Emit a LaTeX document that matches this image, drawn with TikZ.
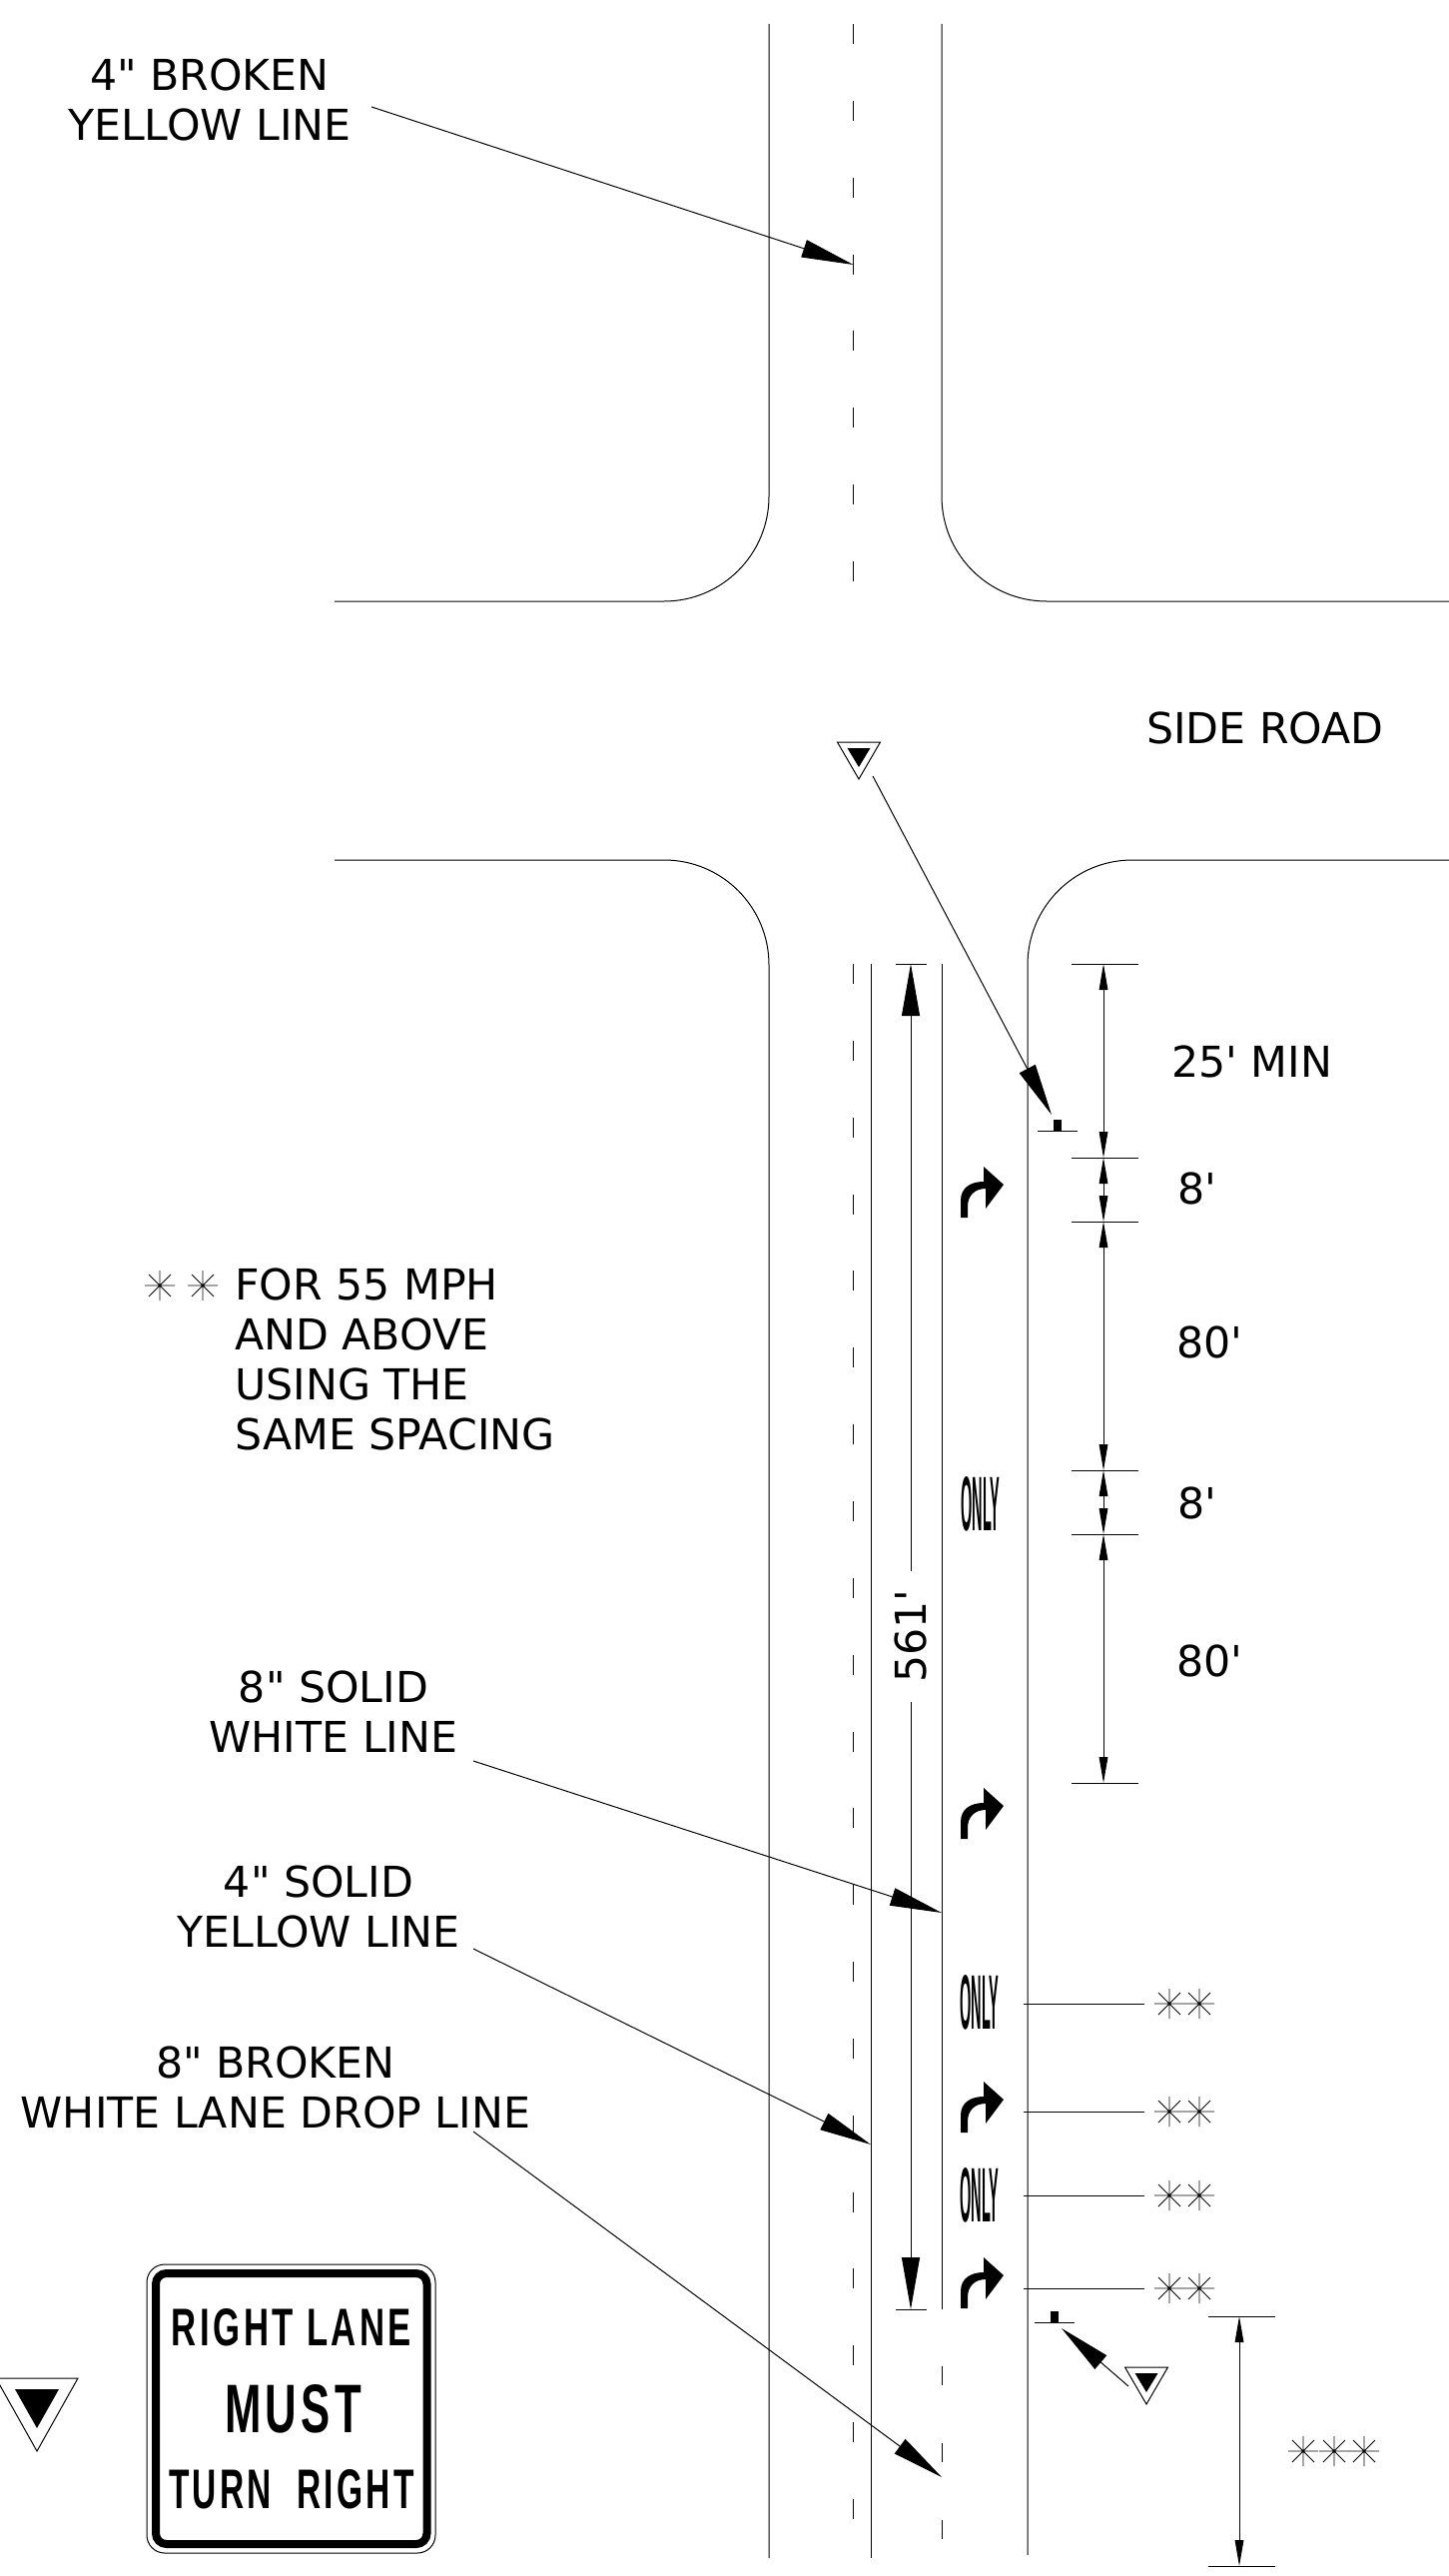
\documentclass[tikz,border=0pt]{standalone}
\usepackage{graphicx}
\usepackage{fontspec}
\setmainfont{DejaVu Sans}[Ligatures=TeXOff]
\newfontfamily\signfont{Liberation Sans}[LetterSpace=10]
\newfontfamily\pavefont{Liberation Sans}
\usetikzlibrary{arrows.meta}
\tikzset{
	roadline/.style={line width=0.75pt},
	leader/.style={line width=0.75pt,-{Triangle[length=39pt,width=13.5pt]}},
	dimline/.style={line width=0.75pt,{Triangle[length=19.5pt,width=6.5pt]}-{Triangle[length=19.5pt,width=6.5pt]}},
	labeltext/.style={font=\fontsize{32}{37.5}\selectfont,inner sep=0pt,align=center},
	turnarrow/.pic={\fill (0,0) -- (7,0) -- (7,11) .. controls (7,22) and (14,29) .. (25,29) -- (25,9) -- (43,33) -- (23,51) -- (23,36) .. controls (10,36) and (0,30) .. (0,17) -- cycle;},
	yieldmark/.pic={\draw[line width=0.75pt] (-21.5,0) -- (21.5,0) -- (0,-37) -- cycle; \fill (-11.5,-6) -- (11.5,-6) -- (0,-25) -- cycle;},
	bigyield/.pic={\draw[line width=0.75pt] (-41,0) -- (41,0) -- (0,-73) -- cycle; \fill (-22,-11) -- (22,-11) -- (0,-50) -- cycle;},
	starmark/.pic={\draw[line width=0.7pt] (-15,0) -- (15,0) (0,-15) -- (0,15) (-11,-11) -- (11,11) (-11,11) -- (11,-11);},
	barmark/.pic={\draw[line width=0.75pt] (-20,0) -- (20,0); \fill (-4,11) rectangle (4,0);},
}
\newcommand{\onlytext}{\resizebox{29.25pt}{40.5pt}{\pavefont\bfseries ONLY}}
\begin{document}
\begin{tikzpicture}[x=0.75pt,y=0.75pt,yscale=-1,xscale=1]
	\useasboundingbox (0,0) rectangle (1451,2579);
	
	% road edges
	\draw[roadline] (770,24) -- (770,497) arc (0:90:105) -- (335,602);
	\draw[roadline] (943,24) -- (943,497) arc (180:90:105) -- (1451,602);
	\draw[roadline] (335,861) -- (665,861) arc (-90:0:105) -- (770,2561);
	\draw[roadline] (1451,861) -- (1134,861) arc (-90:-180:105) -- (1029,2558);
	
	% center dashes
	\foreach \k in {0,...,7}
		\draw[roadline] (854.5,24+76.85*\k) -- (854.5,44+76.85*\k);
	\foreach \k in {0,...,20}
		\draw[roadline] (854.5,965+76.85*\k) -- (854.5,985+76.85*\k);
	
	% lane lines
	\coordinate (yellowtop) at (872,965);
	\coordinate (yellowend) at (872,2561);
	\coordinate (whitetop) at (943,965);
	\coordinate (whiteend) at (943,2312);
	\draw[roadline] (yellowtop) -- (yellowend);
	\draw[roadline] (whitetop) -- (whiteend);
	\foreach \y in {2369,2446,2523}
		\draw[roadline] (943,\y) -- (943,\y+19);
	
	% 561 dimension
	\node[labeltext,rotate=90,inner sep=14pt] (dimlong) at (912,1638) {561'};
	\coordinate (longtop) at (912,965);
	\coordinate (longend) at (912,2312);
	\draw[leader] (dimlong) -- (longtop);
	\draw[leader] (dimlong) -- (longend);
	\draw[roadline] (897,965) -- (928,965);
	\draw[roadline] (897,2312) -- (928,2312);
	
	% right side dimensions
	\foreach \name/\y in {da/965,db/1159,dc/1223,dd/1472,de/1536,df/1785} {
		\coordinate (\name) at (1105,\y);
		\draw[roadline] (1073,\y) -- (1140,\y);
	}
	\draw[dimline] (da) -- (db);
	\draw[dimline] (db) -- (dc);
	\draw[dimline] (dc) -- (dd);
	\draw[dimline] (dd) -- (de);
	\draw[dimline] (de) -- (df);
	\node[labeltext] (minlabel) at (1253.5,1063) {25' MIN};
	\node[labeltext,anchor=west] (eightone) at (1179,1190) {8'};
	\node[labeltext,anchor=west] (eightyone) at (1178,1344) {80'};
	\node[labeltext,anchor=west] (eighttwo) at (1179,1505) {8'};
	\node[labeltext,anchor=west] (eightytwo) at (1178,1663) {80'};
	
	% bottom dimension
	\coordinate (gaptop) at (1241,2319);
	\coordinate (gapend) at (1241,2569);
	\draw[dimline] (gaptop) -- (gapend);
	\draw[roadline] (1210,2319) -- (1277,2319);
	\draw[roadline] (1210,2569) -- (1277,2569);
	\foreach \x in {1305,1336,1366}
		\pic at (\x,2454) {starmark};
	
	% pavement arrows and words
	\foreach \y in {1219,1841,2135,2311}
		\pic at (962,\y) {turnarrow};
	\node[inner sep=0pt] (onlyone) at (982,1506) {\onlytext};
	\node[inner sep=0pt] (onlytwo) at (981,2005) {\onlytext};
	\node[inner sep=0pt] (onlythree) at (981,2198) {\onlytext};
	
	% leaders to the double stars
	\foreach \y in {2006,2114,2198,2291} {
		\draw[roadline] (1025,\y) -- (1146,\y);
		\pic at (1171,\y) {starmark};
		\pic at (1201,\y) {starmark};
	}
	
	% yield markers
	\pic at (860,743) {yieldmark};
	\pic at (1148,2370) {yieldmark};
	\pic at (37,2381) {bigyield};
	\pic at (1059,1132) {barmark};
	\pic at (1056,2325) {barmark};
	\coordinate (yieldone) at (874,777);
	\coordinate (barone) at (1053,1116);
	\coordinate (yieldtwo) at (1130,2389);
	\coordinate (bartwo) at (1063,2331);
	\draw[leader] (yieldone) -- (barone);
	\draw[leader] (yieldtwo) -- (bartwo);
	
	% labels
	\node[labeltext] (brokenyellow) at (210,100) {4" BROKEN\\YELLOW LINE};
	\node[labeltext] (sideroad) at (1267,729) {SIDE ROAD};
	\node[labeltext,align=left,anchor=north west] (spacingnote) at (235,1270) {FOR 55 MPH\\AND ABOVE\\USING THE\\SAME SPACING};
	\pic at (160,1287) {starmark};
	\pic at (203,1287) {starmark};
	\node[labeltext] (solidwhite) at (334,1714) {8" SOLID\\WHITE LINE};
	\node[labeltext] (solidyellow) at (319,1909) {4" SOLID\\YELLOW LINE};
	\node[labeltext] (brokenwhite) at (276,2090) {8" BROKEN\\WHITE LANE DROP LINE};
	
	% leaders from labels
	\coordinate (brokenstart) at (372,107);
	\coordinate (brokentip) at (854.5,265);
	\coordinate (whitestart) at (474,1763);
	\coordinate (whitetip) at (943,1915);
	\coordinate (yellowstart) at (474,1951);
	\coordinate (yellowtip) at (872,2147);
	\coordinate (dropstart) at (474,2134);
	\coordinate (droptip) at (943,2480);
	\draw[leader] (brokenstart) -- (brokentip);
	\draw[leader] (whitestart) -- (whitetip);
	\draw[leader] (yellowstart) -- (yellowtip);
	\draw[leader] (dropstart) -- (droptip);
	
	% sign panel
	\draw[line width=0.75pt,rounded corners=13.5pt] (147,2267) rectangle (436,2556);
	\draw[line width=6pt,rounded corners=8pt] (156,2276) rectangle (427.5,2547);
	\node[inner sep=0pt] (signone) at (292,2330.5) {\resizebox{180pt}{27.75pt}{\signfont\bfseries RIGHT\ LANE}};
	\node[inner sep=0pt] (signtwo) at (293.5,2412) {\resizebox{102.75pt}{36pt}{\signfont\bfseries MUST}};
	\node[inner sep=0pt] (signthree) at (292,2492.5) {\resizebox{184.5pt}{29.25pt}{\signfont\bfseries TURN\ \ RIGHT}};
\end{tikzpicture}
\end{document}
